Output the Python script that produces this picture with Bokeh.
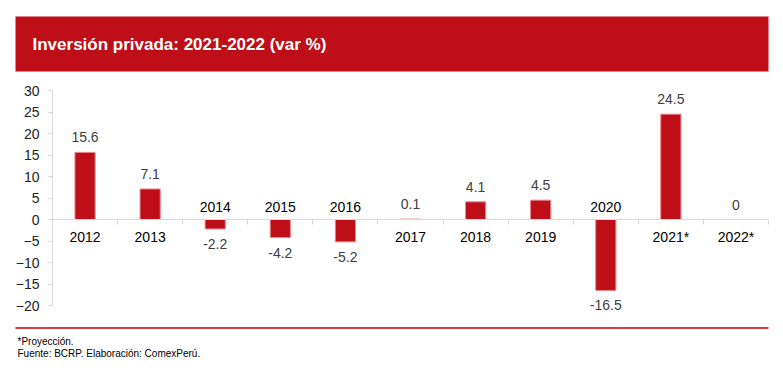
from bokeh.plotting import figure
from bokeh.models import (ColumnDataSource, Range1d, LinearAxis, FixedTicker,
                          LabelSet, BoxAnnotation, Label)
from bokeh.embed import file_html
from bokeh.resources import INLINE
from bokeh.core.properties import value

# ---- data ----
years = ["2012", "2013", "2014", "2015", "2016", "2017", "2018", "2019", "2020", "2021*", "2022*"]
growth = [15.6, 7.1, -2.2, -4.2, -5.2, 0.1, 4.1, 4.5, -16.5, 24.5, 0.0]
value_text = ["15.6", "7.1", "-2.2", "-4.2", "-5.2", "0.1", "4.1", "4.5", "-16.5", "24.5", "0"]
y_ticks = [-20, -15, -10, -5, 0, 5, 10, 15, 20, 25, 30]
title_text = "Inversión privada: 2021-2022 (var %)"
note_lines = ["*Proyección.", "Fuente: BCRP. Elaboración: ComexPerú."]

# ---- layout (pixels) ----
W, H = 783, 371
PX_L, PX_R = 52, 768      # plot area left / right
PX_T, PX_B = 90, 305      # y of top tick / bottom tick
n = len(years)
y_lo, y_hi = y_ticks[0], y_ticks[-1]
sx = (PX_R - PX_L) / n
sy = (PX_B - PX_T) / (y_hi - y_lo)


def X(px):
    return (px - PX_L) / sx


def Y(py):
    return y_hi - (py - PX_T) / sy


RED = "#BE0F18"
EDGE = "#E8868B"
FONT = "Liberation Sans"

p = figure(width=W, height=H, output_backend="svg", toolbar_location=None,
           x_range=Range1d(X(0), X(W)), y_range=Range1d(Y(H), Y(0)),
           x_axis_type=None, y_axis_type=None, min_border=0)
p.outline_line_color = None
p.background_fill_color = "white"
p.border_fill_color = "white"

xs = [i + 0.5 for i in range(n)]
src = ColumnDataSource(dict(x=xs, y=growth, zero=[0] * n))
p.vbar(x="x", top="y", bottom="zero", width=0.31, source=src,
       fill_color=RED, line_color=EDGE, line_width=1)

# y axis
yax = LinearAxis(ticker=FixedTicker(ticks=y_ticks), fixed_location=0, bounds=(y_lo, y_hi))
yax.axis_line_color = "#D9D9D9"
yax.major_tick_line_color = "#D9D9D9"
yax.major_tick_out = 4
yax.major_tick_in = 0
yax.minor_tick_line_color = None
yax.major_label_standoff = 9
yax.major_label_text_font = FONT
yax.major_label_text_font_size = "14px"
yax.major_label_text_color = "#222222"
p.add_layout(yax, "left")

# x axis at zero, ticks at category boundaries
bounds = list(range(n + 1))
xax = LinearAxis(ticker=FixedTicker(ticks=bounds), fixed_location=0, bounds=(0, n),
                 major_label_overrides={b: "" for b in bounds})
xax.axis_line_color = "#D9D9D9"
xax.major_tick_line_color = "#D9D9D9"
xax.major_tick_out = 5
xax.major_tick_in = 0
xax.minor_tick_line_color = None
xax.major_label_standoff = 0
xax.major_label_text_font_size = "1px"
p.add_layout(xax, "below")

pos = [i for i, v in enumerate(growth) if v >= 0]
neg = [i for i, v in enumerate(growth) if v < 0]


def subset(idx):
    return ColumnDataSource(dict(x=[xs[i] for i in idx], y=[growth[i] for i in idx],
                                 zero=[0] * len(idx), lab=[value_text[i] for i in idx],
                                 cat=[years[i] for i in idx]))


src_pos, src_neg = subset(pos), subset(neg)
common = dict(text_font=value(FONT), text_font_size=value("14px"),
              text_align="center", text_baseline="middle")

p.add_layout(LabelSet(x="x", y="y", text="lab", source=src_pos, y_offset=15,
                      text_color="#404040", **common))
p.add_layout(LabelSet(x="x", y="y", text="lab", source=src_neg, y_offset=-15,
                      text_color="#404040", **common))
p.add_layout(LabelSet(x="x", y="zero", text="cat", source=src_pos, y_offset=-17,
                      text_color="#000000", **common))
p.add_layout(LabelSet(x="x", y="zero", text="cat", source=src_neg, y_offset=13,
                      text_color="#000000", **common))

# title bar
p.add_layout(BoxAnnotation(left=X(15), right=X(768), top=Y(16), bottom=Y(71),
                           fill_color=RED, fill_alpha=1.0,
                           line_color=EDGE, line_width=1))
p.add_layout(Label(x=X(32), y=Y(44), text=title_text, text_font=FONT,
                   text_font_size="17px", text_font_style="bold",
                   text_color="white", text_baseline="middle"))

# separator line
p.add_layout(BoxAnnotation(left=X(15), right=X(768), top=Y(326.5), bottom=Y(328.5),
                           fill_color="#E0383E", fill_alpha=1.0, line_color=None))

# notes
for k, line in enumerate(note_lines):
    p.add_layout(Label(x=X(17), y=Y(341 + 12 * k), text=line, text_font=FONT,
                       text_font_size="10px", text_color="#000000",
                       text_baseline="middle"))

open("out.html", "w").write(file_html(p, INLINE))
